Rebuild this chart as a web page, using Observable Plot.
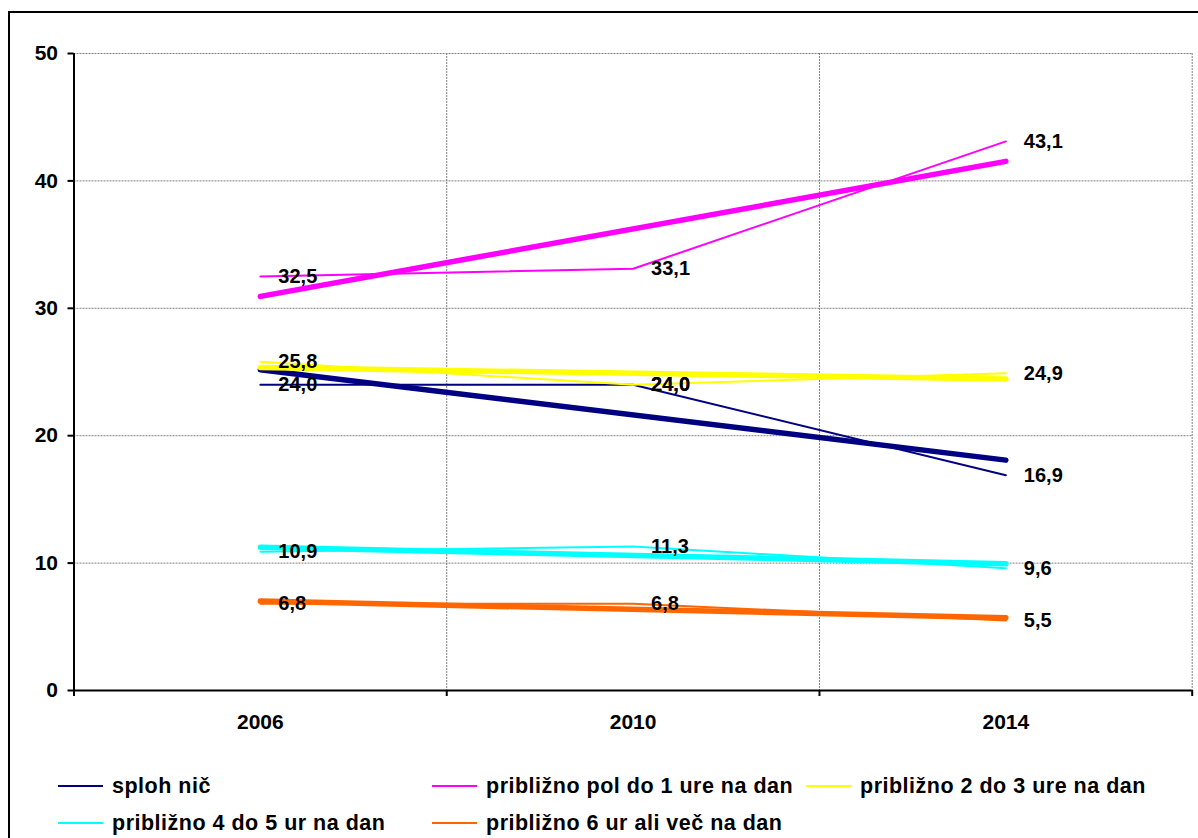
<!DOCTYPE html>
<html>
<head>
<meta charset="utf-8">
<script src="https://cdn.jsdelivr.net/npm/d3@7"></script>
<script src="https://cdn.jsdelivr.net/npm/@observablehq/plot@0.6"></script>
<style>
  html, body { margin: 0; padding: 0; background: #fff; overflow: hidden; }
  #wrap { position: relative; width: 1198px; height: 838px; overflow: hidden; font-family: "Liberation Sans", Arial, sans-serif; }
  #frame { position: absolute; left: 8px; top: 11px; width: 1300px; height: 1000px; border: 2px solid #000; box-sizing: border-box; pointer-events: none; }
  #chart { position: absolute; left: 0; top: 0; }
  .leg { position: absolute; display: flex; align-items: center; font-weight: bold; font-size: 21.5px; letter-spacing: 0.5px; color: #000; white-space: nowrap; }
  .leg .sw { width: 45px; height: 2.5px; margin-right: 9px; }
</style>
</head>
<body>
<div id="wrap">
  <div id="chart"></div>
  <div id="legend"></div>
  <div id="frame"></div>
</div>
<script>
// ---- data ----
const years = [2006, 2010, 2014];
const seriesNames = [
  "sploh nič",
  "približno pol do 1 ure na dan",
  "približno 2 do 3 ure na dan",
  "približno 4 do 5 ur na dan",
  "približno 6 ur ali več na dan"
];
const seriesColors = ["#000080", "#FF00FF", "#FFFF00", "#00FFFF", "#FF6600"];
const splohNic = [24.0, 24.0, 16.9];
const polDo1 = [32.5, 33.1, 43.1];
const dvaDo3 = [25.8, 24.0, 24.9];
const stiriDo5 = [10.9, 11.3, 9.6];
const sestVec = [6.8, 6.8, 5.5];
const yTicks = [0, 10, 20, 30, 40, 50];
const xBoundaries = [2004, 2008, 2012, 2016];

const seriesValues = [splohNic, polDo1, dvaDo3, stiriDo5, sestVec];
const data = [];
seriesNames.forEach((s, i) => {
  years.forEach((yr, j) => data.push({series: s, year: yr, value: seriesValues[i][j]}));
});
const fmt = d => d.toFixed(1).replace(".", ",");

const chart = Plot.plot({
  width: 1198,
  height: 738,
  marginLeft: 73.5,
  marginRight: 6.3,
  marginTop: 53,
  marginBottom: 48,
  style: {fontFamily: "'Liberation Sans', Arial, sans-serif", fontSize: "21px", fontWeight: "bold", color: "#000", background: "transparent", overflow: "visible"},
  x: {type: "linear", domain: [2004, 2016]},
  y: {domain: [0, 50]},
  color: {domain: seriesNames, range: seriesColors},
  marks: [
    Plot.gridY(yTicks.filter(d => d > 0), {stroke: "#808080", strokeOpacity: 1, strokeWidth: 1, strokeDasharray: "2,1"}),
    Plot.gridX(xBoundaries.slice(1), {stroke: "#808080", strokeOpacity: 1, strokeWidth: 1, strokeDasharray: "2,1"}),
    Plot.axisY(yTicks, {tickSize: 6, tickPadding: 10, strokeWidth: 2, fontSize: 21, fontWeight: "bold", label: null}),
    Plot.axisX(xBoundaries, {tickSize: 6, strokeWidth: 2, tickFormat: () => "", label: null}),
    Plot.axisX(years, {tickSize: 0, tickPadding: 24, tickFormat: d => String(d), fontSize: 21, fontWeight: "bold", label: null}),
    Plot.line(data, {x: "year", y: "value", stroke: "series", z: "series", strokeWidth: 2}),
    Plot.linearRegressionY(data, {x: "year", y: "value", stroke: "series", ci: 0, strokeWidth: 5.5}),
    Plot.ruleX([2004], {stroke: "#000", strokeWidth: 2}),
    Plot.ruleY([0], {stroke: "#000", strokeWidth: 2}),
    Plot.text(data, {x: "year", y: "value", text: d => fmt(d.value), dx: 18, textAnchor: "start", fill: "#000", fontSize: 20, fontWeight: "bold"})
  ]
});
document.getElementById("chart").appendChild(chart);

// ---- legend ----
const legPos = [
  {left: 58, top: 786}, {left: 432, top: 786}, {left: 806, top: 786},
  {left: 58, top: 823}, {left: 432, top: 823}
];
const legend = document.getElementById("legend");
seriesNames.forEach((s, i) => {
  const el = document.createElement("div");
  el.className = "leg";
  el.style.left = legPos[i].left + "px";
  el.style.top = (legPos[i].top - 13) + "px";
  el.style.height = "26px";
  const sw = document.createElement("span");
  sw.className = "sw";
  sw.style.background = seriesColors[i];
  const tx = document.createElement("span");
  tx.textContent = s;
  el.appendChild(sw);
  el.appendChild(tx);
  legend.appendChild(el);
});
</script>
</body>
</html>
